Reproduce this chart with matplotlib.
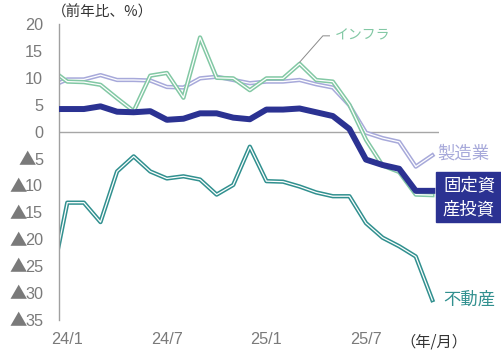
import numpy as np
import matplotlib.pyplot as plt
from matplotlib.patches import Rectangle

plt.rcParams['font.family'] = ['Liberation Sans', 'DejaVu Sans', 'Noto Sans CJK JP']

# 月（23/12 は左端で切れる）
months = ['23/12', '24/1', '24/2', '24/3', '24/4', '24/5', '24/6', '24/7', '24/8',
          '24/9', '24/10', '24/11', '24/12', '25/1', '25/2', '25/3', '25/4',
          '25/5', '25/6', '25/7', '25/8', '25/9', '25/10', '25/11']

# 前年比（%）
total = [4.2, 4.2, 4.2, 4.7, 3.7, 3.6, 3.8, 2.2, 2.4, 3.4, 3.4, 2.6, 2.3,
         4.1, 4.1, 4.3, 3.6, 2.9, 0.5, -5.2, -6.2, -6.9, -11.0, -11.0]
infra = [11.6, 9.3, 9.2, 8.7, 6.2, 3.8, 10.4, 10.9, 6.3, 17.5, 10.0, 9.9, 7.7,
         9.9, 9.9, 12.6, 9.6, 9.3, 5.0, -1.5, -6.3, -7.5, -11.7, -11.8]
manuf = [8.4, 9.7, 9.7, 10.5, 9.6, 9.6, 9.5, 8.3, 8.2, 9.9, 10.2, 9.6, 9.0,
         9.3, 9.3, 9.6, 8.8, 8.2, 4.9, -0.2, -1.2, -1.9, -6.5, -4.4]
realestate = [-28.5, -13.2, -13.2, -16.8, -7.4, -4.6, -7.4, -8.7, -8.3, -8.9, -11.7,
              -9.9, -2.8, -9.2, -9.3, -10.2, -11.3, -12.0, -12.0, -17.0, -19.7,
              -21.3, -23.2, -31.3]

tick_months = ['24/1', '24/7', '25/1', '25/7']
yticks = list(range(-35, 21, 5))

c_total = '#2b3292'
c_infra = '#82c8a4'
c_manuf = '#a7a9da'
c_re = '#31908f'
c_tick = '#7a7a7a'

x = np.arange(len(months)) - 1
W, H = 502, 356


# 二重線（色の太線＋白の細線）
def double_line(ax, y, color):
    ax.plot(x, y, color=color, lw=3.1, solid_joinstyle='round', zorder=2)
    ax.plot(x, y, color='white', lw=0.9, solid_joinstyle='round', zorder=2)


fig = plt.figure(figsize=(W / 100, H / 100), dpi=100)
ax = fig.add_axes([59 / W, 36 / H, 380 / W, 296 / H])

ax.axhline(0, color='#a6a6a6', lw=1.0, zorder=1)
double_line(ax, realestate, c_re)
double_line(ax, manuf, c_manuf)
double_line(ax, infra, c_infra)
ax.plot(x, total, color=c_total, lw=4.3, solid_joinstyle='round', zorder=3)

ax.set_xlim(-0.5, 22.4)
ax.set_ylim(-35, 20)
ax.set_yticks(yticks, [str(abs(v)) for v in yticks])
ax.set_xticks([months.index(m) - 1 for m in tick_months], tick_months)
ax.tick_params(axis='y', length=0, pad=11.5, colors=c_tick, labelsize=11.7)
ax.tick_params(axis='x', length=0, pad=9, colors=c_tick, labelsize=11.7)
for s in ['top', 'right', 'bottom']:
    ax.spines[s].set_visible(False)
ax.spines['left'].set_color('#a0a0a0')
ax.spines['left'].set_linewidth(1.0)

jp = ['Noto Sans CJK JP', 'DejaVu Sans']

# マイナスは▲（全角）を数字の左に付ける
fig.canvas.draw()
for v, lbl in zip(yticks, ax.get_yticklabels()):
    if v < 0:
        bb = lbl.get_window_extent()
        fig.text((bb.x0 + 1.5) / W, (bb.y0 + bb.y1) / 2 / H, '▲', family=jp, fontsize=12.5,
                 color=c_tick, ha='right', va='center')

fig.text(52 / W, 1 - 12 / H, '（前年比、%）', family=jp, fontsize=10.5,
         color='#333333', va='center', ha='left')
fig.text(434 / W, 1 - 342 / H, '（年/月）', family=jp, fontsize=11,
         color='#333333', va='center', ha='center')

# 系列ラベル
i_peak = months.index('25/3') - 1
ax.plot([i_peak, i_peak + 1.4, i_peak + 1.8], [infra[i_peak + 1] + 0.3, 17.8, 17.8],
        color='#8a8a8a', lw=0.7, clip_on=False)
ax.text(i_peak + 2.15, 17.8, 'インフラ', family=jp, fontsize=10, color=c_infra,
        va='center', ha='left')
ax.annotate('製造業', (x[-1], manuf[-1]), xytext=(5, 2), textcoords='offset pixels',
            family=jp, fontsize=12.5, color=c_manuf, va='center', ha='left',
            annotation_clip=False)
ax.annotate('不動産', (x[-1], realestate[-1]), xytext=(11, 0), textcoords='offset pixels',
            family=jp, fontsize=12.5, color=c_re, va='center', ha='left',
            annotation_clip=False)

fig.patches.append(Rectangle((436 / W, 1 - 222 / H), 66 / W, 50 / H,
                             transform=fig.transFigure, color=c_total, zorder=5))
fig.text(469 / W, 1 - 185 / H, '固定資', family=jp, fontsize=12.5, color='white',
         va='center', ha='center', zorder=6)
fig.text(469 / W, 1 - 209 / H, '産投資', family=jp, fontsize=12.5, color='white',
         va='center', ha='center', zorder=6)

fig.savefig('out.png', dpi=100)
